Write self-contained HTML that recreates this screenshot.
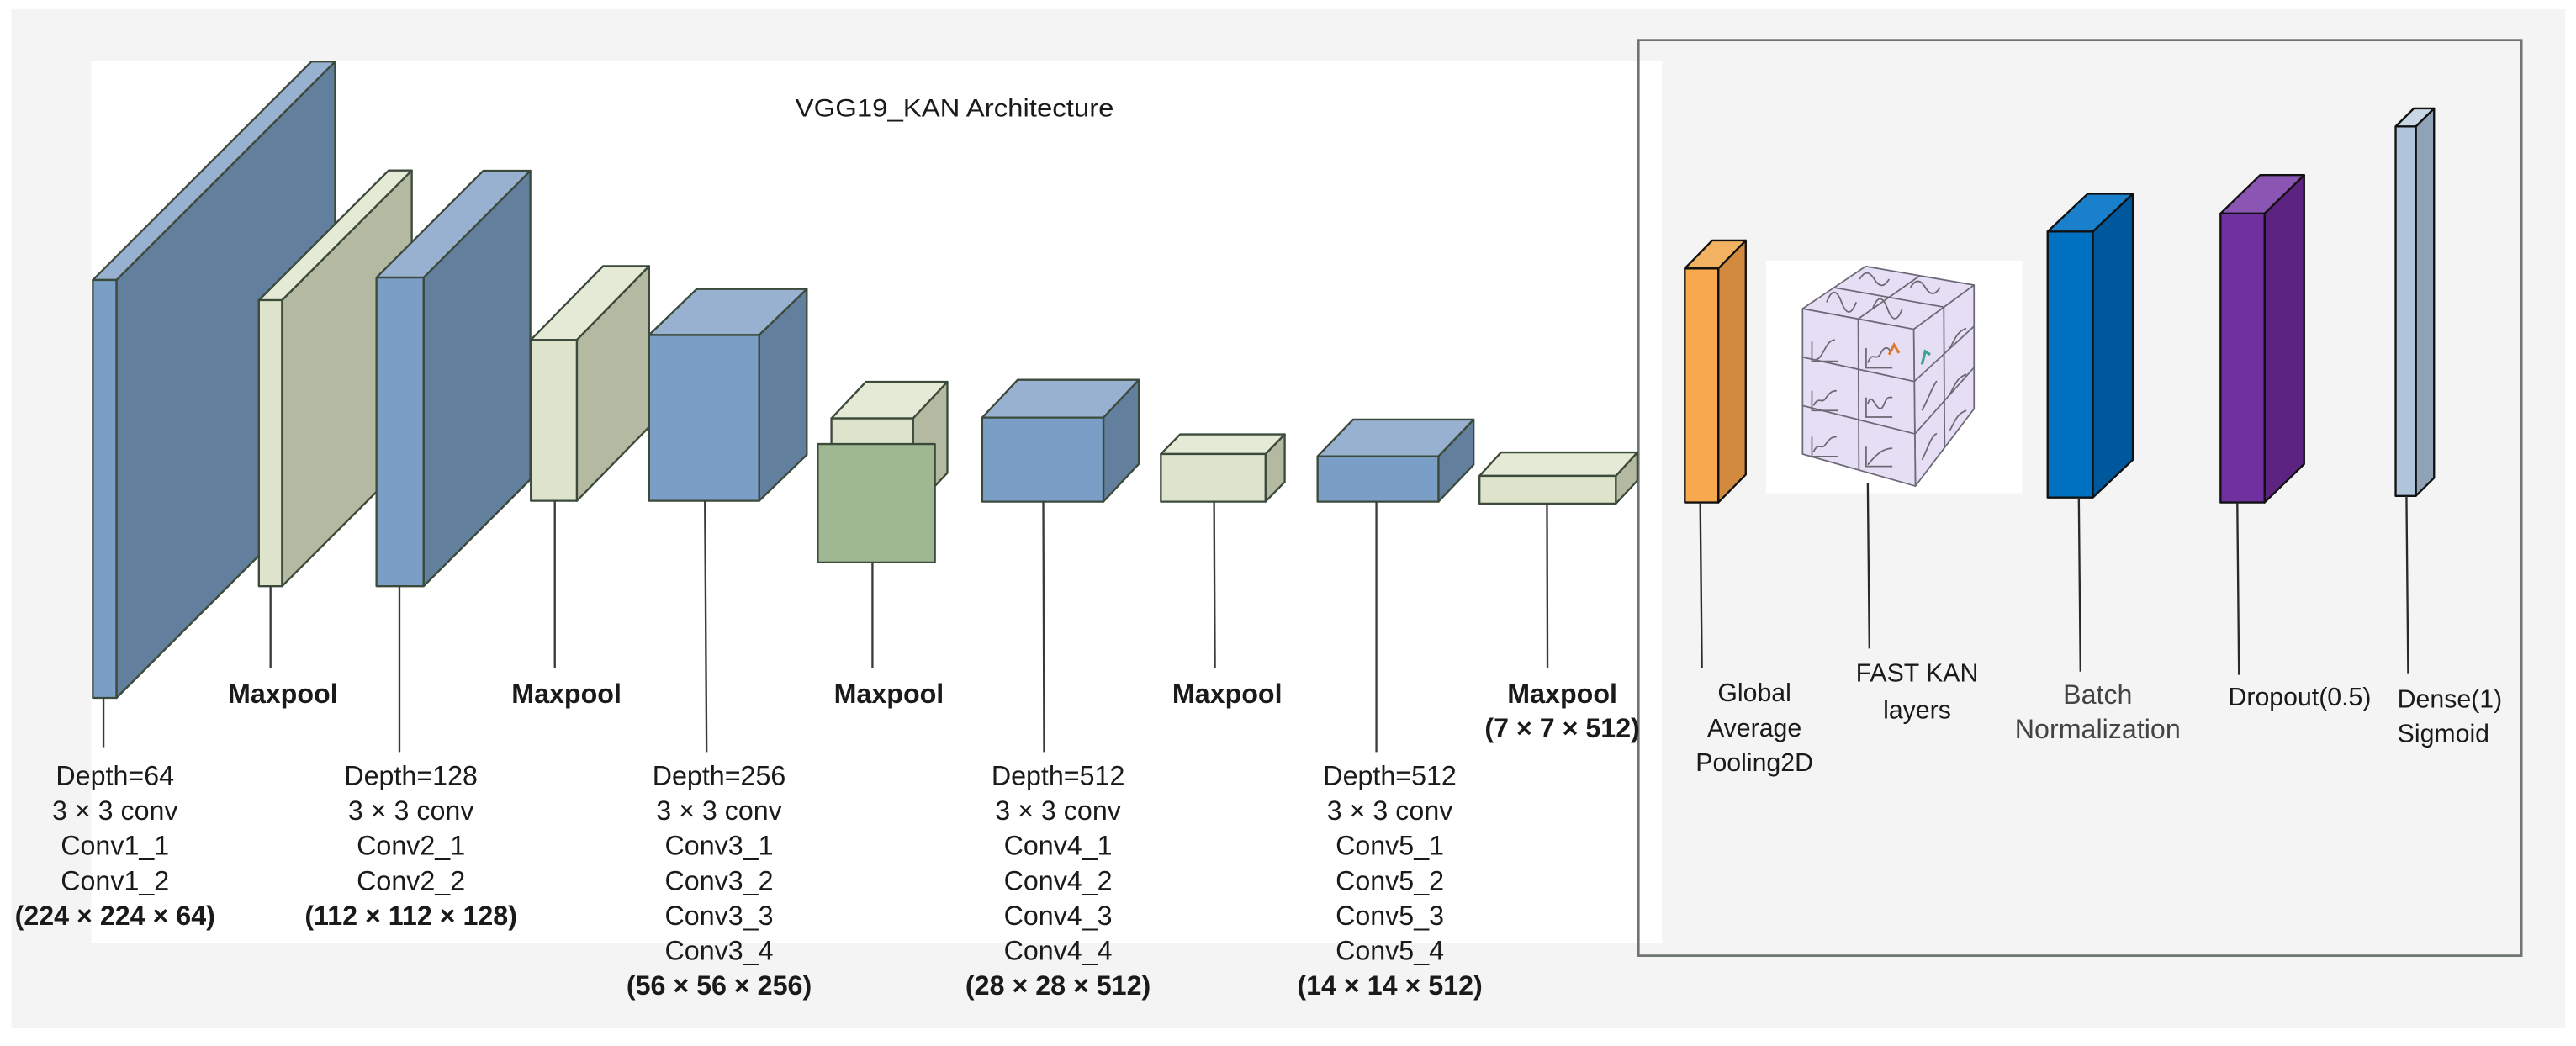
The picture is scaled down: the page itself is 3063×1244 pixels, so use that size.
<!DOCTYPE html>
<html><head><meta charset="utf-8"><style>
html,body{margin:0;padding:0;background:#fff;}
svg{display:block;}
text{font-family:"Liberation Sans",sans-serif;fill:#1a1a1a;}
.b{font-weight:bold;}
</style></head><body>
<svg width="3063" height="1244" viewBox="0 0 1568 637" xmlns="http://www.w3.org/2000/svg">
<rect x="0" y="0" width="1568" height="637" fill="#ffffff"/>
<rect x="6.7" y="5.6" width="1555" height="620.6" fill="#f4f4f4"/>
<rect x="55.3" y="37.4" width="956.4" height="537" fill="#ffffff"/>
<rect x="997.4" y="24.4" width="537.6" height="557.6" fill="none" stroke="#6e756e" stroke-width="1.4"/>
<text x="581" y="71" font-size="15" text-anchor="middle" textLength="194" lengthAdjust="spacingAndGlyphs">VGG19_KAN Architecture</text>

<g stroke="#3c4a3c" stroke-width="1.2" stroke-linejoin="round">
<polygon points="70.7,170.5 203.8,37.5 203.8,292 70.7,425" fill="#627f9e"/>
<polygon points="56.3,170.5 70.7,170.5 203.8,37.5 189.4,37.5" fill="#98b1d1"/>
<rect x="56.3" y="170.5" width="14.4" height="254.5" fill="#7a9ec6"/>
<polygon points="171.5,182.8 250.5,103.8 250.5,278 171.5,357" fill="#b4b9a1"/>
<polygon points="157.4,182.8 171.5,182.8 250.5,103.8 236.4,103.8" fill="#e5ead6"/>
<rect x="157.4" y="182.8" width="14.1" height="174.2" fill="#dde4cb"/>
<polygon points="257.7,169 322.7,104 322.7,292 257.7,357" fill="#627f9e"/>
<polygon points="229,169 257.7,169 322.7,104 294,104" fill="#98b1d1"/>
<rect x="229" y="169" width="28.7" height="188" fill="#7a9ec6"/>
<polygon points="351,207 395,162 395,260 351,305" fill="#b4b9a1"/>
<polygon points="323,207 351,207 395,162 367,162" fill="#e5ead6"/>
<rect x="323" y="207" width="28" height="98" fill="#dde4cb"/>
<polygon points="462,204 491,176 491,277 462,305" fill="#627f9e"/>
<polygon points="395,204 462,204 491,176 424,176" fill="#98b1d1"/>
<rect x="395" y="204" width="67" height="101" fill="#7a9ec6"/>
<polygon points="555.7,254.8 576.6,232.5 576.6,288 555.7,310" fill="#b4b9a1"/>
<polygon points="506,254.8 555.7,254.8 576.6,232.5 527,232.5" fill="#e5ead6"/>
<rect x="506" y="254.8" width="49.7" height="55" fill="#dde4cb"/>
<rect x="497.7" y="270.4" width="71.3" height="72.1" fill="#a0b892"/>
<polygon points="671.6,254.3 693.2,231.3 693.2,282.5 671.6,305.5" fill="#627f9e"/>
<polygon points="597.8,254.3 671.6,254.3 693.2,231.3 619.4,231.3" fill="#98b1d1"/>
<rect x="597.8" y="254.3" width="73.8" height="51.2" fill="#7a9ec6"/>
<polygon points="770.3,276.5 782,264.5 782,293.5 770.3,305.5" fill="#b4b9a1"/>
<polygon points="706.6,276.5 770.3,276.5 782,264.5 718.3,264.5" fill="#e5ead6"/>
<rect x="706.6" y="276.5" width="63.7" height="29" fill="#dde4cb"/>
<polygon points="875.6,277.9 897,255.5 897,283 875.6,305.5" fill="#627f9e"/>
<polygon points="802,277.9 875.6,277.9 897,255.5 823.6,255.5" fill="#98b1d1"/>
<rect x="802" y="277.9" width="73.6" height="27.6" fill="#7a9ec6"/>
<polygon points="983.6,289.8 996.7,275.5 996.7,292.7 983.6,306.7" fill="#b4b9a1"/>
<polygon points="900.6,289.8 983.6,289.8 996.7,275.5 913.7,275.5" fill="#e5ead6"/>
<rect x="900.6" y="289.8" width="83" height="16.9" fill="#dde4cb"/>
</g>

<g stroke="#3a3a3a" stroke-width="1.2">
<line x1="62.8" y1="425" x2="62.8" y2="455"/>
<line x1="164.5" y1="357" x2="164.5" y2="407"/>
<line x1="243" y1="357" x2="243" y2="458"/>
<line x1="337.6" y1="305" x2="337.6" y2="407"/>
<line x1="429" y1="305" x2="430" y2="458"/>
<line x1="531" y1="342.5" x2="531" y2="407"/>
<line x1="635" y1="305.5" x2="635.5" y2="458"/>
<line x1="739" y1="305.5" x2="739.5" y2="407"/>
<line x1="837.8" y1="305.5" x2="837.8" y2="458"/>
<line x1="941.7" y1="306.7" x2="942" y2="407"/>
</g>

<g font-size="16.5" text-anchor="middle">
<text class="b" x="172" y="428">Maxpool</text>
<text class="b" x="344.7" y="428">Maxpool</text>
<text class="b" x="541" y="428">Maxpool</text>
<text class="b" x="747" y="428">Maxpool</text>
<text class="b" x="951" y="428">Maxpool</text>
<text class="b" x="951" y="449">(7 × 7 × 512)</text>
</g>

<g font-size="16.5" text-anchor="middle">
<text x="69.8" y="478">Depth=64</text>
<text x="69.8" y="499.3">3 × 3 conv</text>
<text x="69.8" y="520.6">Conv1_1</text>
<text x="69.8" y="541.9">Conv1_2</text>
<text class="b" x="69.8" y="563.2">(224 × 224 × 64)</text>

<text x="250" y="478">Depth=128</text>
<text x="250" y="499.3">3 × 3 conv</text>
<text x="250" y="520.6">Conv2_1</text>
<text x="250" y="541.9">Conv2_2</text>
<text class="b" x="250" y="563.2">(112 × 112 × 128)</text>

<text x="437.6" y="478">Depth=256</text>
<text x="437.6" y="499.3">3 × 3 conv</text>
<text x="437.6" y="520.6">Conv3_1</text>
<text x="437.6" y="541.9">Conv3_2</text>
<text x="437.6" y="563.2">Conv3_3</text>
<text x="437.6" y="584.5">Conv3_4</text>
<text class="b" x="437.6" y="605.8">(56 × 56 × 256)</text>

<text x="644" y="478">Depth=512</text>
<text x="644" y="499.3">3 × 3 conv</text>
<text x="644" y="520.6">Conv4_1</text>
<text x="644" y="541.9">Conv4_2</text>
<text x="644" y="563.2">Conv4_3</text>
<text x="644" y="584.5">Conv4_4</text>
<text class="b" x="644" y="605.8">(28 × 28 × 512)</text>

<text x="846" y="478">Depth=512</text>
<text x="846" y="499.3">3 × 3 conv</text>
<text x="846" y="520.6">Conv5_1</text>
<text x="846" y="541.9">Conv5_2</text>
<text x="846" y="563.2">Conv5_3</text>
<text x="846" y="584.5">Conv5_4</text>
<text class="b" x="846" y="605.8">(14 × 14 × 512)</text>
</g>

<g stroke="#111" stroke-width="1.2" stroke-linejoin="round">
<polygon points="1046,163.5 1062.7,146.4 1062.7,289 1046,306" fill="#d28b3e"/>
<polygon points="1025.6,163.5 1046,163.5 1062.7,146.4 1042.3,146.4" fill="#f3b262"/>
<rect x="1025.6" y="163.5" width="20.4" height="142.5" fill="#f8a94e"/>
<polygon points="1274,141 1298.4,118 1298.4,280 1274,303" fill="#00589c"/>
<polygon points="1246.5,141 1274,141 1298.4,118 1270.9,118" fill="#1a80cc"/>
<rect x="1246.5" y="141" width="27.5" height="162" fill="#0070c0"/>
<polygon points="1378.6,130 1402.7,106.6 1402.7,282.6 1378.6,306" fill="#5c2380"/>
<polygon points="1351.8,130 1378.6,130 1402.7,106.6 1375.9,106.6" fill="#8a55b3"/>
<rect x="1351.8" y="130" width="26.8" height="176" fill="#7030a0"/>
<polygon points="1470.7,77 1481.8,66 1481.8,291 1470.7,302" fill="#8fa2b8"/>
<polygon points="1458.4,77 1470.7,77 1481.8,66 1469.5,66" fill="#c8d6e6"/>
<rect x="1458.4" y="77" width="12.3" height="225" fill="#b0c4dc"/>
</g>

<rect x="1075" y="158.7" width="156" height="141.7" fill="#ffffff"/>
<g stroke="#6d6a78" stroke-width="0.9" fill="#e5def5" stroke-linejoin="round">
<polygon points="1097.3,188 1135.7,162.2 1201.7,173.6 1165,200.5"/>
<polygon points="1165,200.5 1201.7,173.6 1201.7,249 1166,296"/>
<polygon points="1097.3,188 1165,200.5 1166,296 1097.3,276.5"/>
<line x1="1116.5" y1="175.1" x2="1183.3" y2="187"/>
<line x1="1168.7" y1="167.9" x2="1131.2" y2="194.2"/>
<line x1="1131.2" y1="194.2" x2="1131.6" y2="286.2"/>
<line x1="1097.3" y1="217.5" x2="1165.3" y2="232.3"/>
<line x1="1097.3" y1="247" x2="1165.7" y2="264.2"/>
<line x1="1183.3" y1="187" x2="1183.8" y2="272.5"/>
<line x1="1165.3" y1="232.3" x2="1201.7" y2="198.7"/>
<line x1="1165.7" y1="264.2" x2="1201.7" y2="223.8"/>
</g>
<g stroke="#6a6a72" stroke-width="0.9" fill="none">
<path d="M1103,208 v12 h16 M1105,219 c5,0 6,-12 12,-12"/>
<path d="M1136,212 v12 h16 M1137,221 c3,-8 5,0 8,-6 c2,-4 4,-4 6,-1"/>
<path d="M1103,238 v12 h16 M1104,247 c3,-6 5,-1 7,-4 c3,-4 4,-5 7,-5"/>
<path d="M1136,242 v12 h16 M1137,246 c3,-10 6,10 10,0 c2,-5 3,-4 5,-4"/>
<path d="M1103,266 v12 h16 M1104,275 c3,-6 5,-1 7,-4 c3,-4 4,-5 7,-5"/>
<path d="M1136,272 v12 h16 M1137,283 c5,-6 9,-10 15,-10"/>
<path d="M1112,184 c3,-8 6,-8 9,0 c3,8 6,8 9,0"/>
<path d="M1140,188 c3,-8 6,-8 9,0 c3,8 6,8 9,0"/>
<path d="M1132,170 c3,-5 6,-5 9,0 c3,5 6,5 9,0"/>
<path d="M1163,175 c3,-5 6,-5 9,0 c3,5 6,5 9,0"/>
<path d="M1170,250 c3,-5 6,-14 9,-18"/>
<path d="M1170,280 c3,-5 5,-14 9,-16"/>
<path d="M1187,212 c3,-5 4,-10 10,-12"/>
<path d="M1187,240 c3,-5 4,-10 10,-12"/>
<path d="M1187,262 c3,-5 4,-10 10,-12"/>
</g>
<path d="M1150,216 l3,-6 l3,5" stroke="#e07a2a" stroke-width="1.6" fill="none"/>
<path d="M1170,222 l2,-8 l3,2" stroke="#3aa58a" stroke-width="1.6" fill="none"/>

<g stroke="#2a2a2a" stroke-width="1.2">
<line x1="1035" y1="306" x2="1036" y2="407"/>
<line x1="1137" y1="294" x2="1138" y2="395"/>
<line x1="1265.5" y1="303" x2="1266.5" y2="409"/>
<line x1="1362" y1="306" x2="1363" y2="411"/>
<line x1="1465" y1="302" x2="1466" y2="410"/>
</g>

<g font-size="15.5" text-anchor="middle">
<text x="1068" y="427">Global</text>
<text x="1068" y="448.5">Average</text>
<text x="1068" y="469.5">Pooling2D</text>
<text x="1167" y="415">FAST KAN</text>
<text x="1167" y="437.5">layers</text>
<text x="1277" y="428.5" font-size="16.5" style="fill:#444">Batch</text>
<text x="1277" y="449.5" font-size="16.5" style="fill:#444">Normalization</text>
<text x="1400" y="429.5">Dropout(0.5)</text>
</g>
<g font-size="15.5">
<text x="1459.5" y="431">Dense(1)</text>
<text x="1459.5" y="452">Sigmoid</text>
</g>
</svg>
</body></html>
